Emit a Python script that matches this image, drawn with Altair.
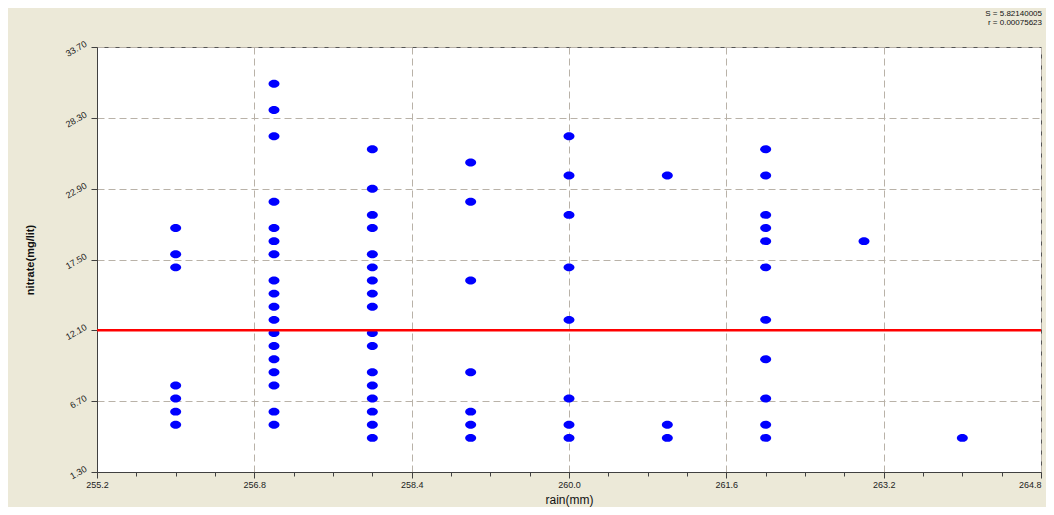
import altair as alt
import pandas as pd

# rain (mm) column positions and nitrate values (mg/lit)
rain_256 = [19.9, 17.9, 16.9, 7.9, 6.9, 5.9, 4.9]
rain_257 = [30.9, 28.9, 26.9, 21.9, 19.9, 18.9, 17.9, 15.9, 14.9, 13.9, 12.9,
            11.9, 10.9, 9.9, 8.9, 7.9, 5.9, 4.9]
rain_258 = [25.9, 22.9, 20.9, 19.9, 17.9, 16.9, 15.9, 14.9, 13.9, 11.9, 10.9,
            8.9, 7.9, 6.9, 5.9, 4.9, 3.9]
rain_259 = [24.9, 21.9, 15.9, 8.9, 5.9, 4.9, 3.9]
rain_260 = [26.9, 23.9, 20.9, 16.9, 12.9, 6.9, 4.9, 3.9]
rain_261 = [23.9, 4.9, 3.9]
rain_262 = [25.9, 23.9, 20.9, 19.9, 18.9, 16.9, 12.9, 9.9, 6.9, 4.9, 3.9]
rain_263 = [18.9]
rain_264 = [3.9]

columns = {256.0: rain_256, 257.0: rain_257, 258.0: rain_258, 259.0: rain_259,
           260.0: rain_260, 261.0: rain_261, 262.0: rain_262, 263.0: rain_263,
           264.0: rain_264}

mean_line = [12.1]
stats_s = ["S = 5.82140005"]
stats_r = ["r = 0.00075623"]

x_domain = [255.2, 264.8]
y_domain = [1.3, 33.7]
x_ticks = [round(255.2 + 0.4 * i, 2) for i in range(25)]
y_ticks = [round(1.3 + 1.35 * i, 3) for i in range(25)]

rows = []
for rx, vals in columns.items():
    for v in vals:
        rows.append({"rain": rx, "nitrate": v})
df = pd.DataFrame(rows)

W, H = 944, 425
FONT = "Liberation Sans"
GRID = "#b9b2a8"
AXIS = "#404040"

x_major = "abs((datum.value - 255.2) / 1.6 - round((datum.value - 255.2) / 1.6)) < 0.01"
y_major = "abs((datum.value - 1.3) / 5.4 - round((datum.value - 1.3) / 5.4)) < 0.01"

x_enc = alt.X("rain:Q", scale=alt.Scale(domain=x_domain, nice=False, zero=False),
              axis=alt.Axis(title="rain(mm)", values=x_ticks,
                            labelExpr=f"({x_major}) ? format(datum.value, '.1f') : ''",
                            labelAlign=alt.ConditionalAxisLabelAlign(
                                condition={"test": "datum.value > 264.7", "value": "right"},
                                value="center"),
                            grid=True, gridDash=[7, 4], gridColor=GRID,
                            gridOpacity=alt.ConditionalAxisNumber(
                                condition={"test": x_major, "value": 1}, value=0),
                            tickSize=alt.ConditionalAxisNumber(
                                condition={"test": x_major, "value": 6}, value=4),
                            tickColor=AXIS, domainColor=AXIS, labelColor="#222222",
                            labelFont=FONT, labelFontSize=9, labelPadding=2,
                            labelFlush=False, labelOverlap=False,
                            titleFont=FONT, titleFontSize=12, titleFontWeight="normal",
                            titleColor="#111111", titlePadding=5))
y_enc = alt.Y("nitrate:Q", scale=alt.Scale(domain=y_domain, nice=False, zero=False),
              axis=alt.Axis(title="nitrate(mg/lit)", values=y_ticks,
                            labelExpr=f"({y_major}) ? format(datum.value, '.2f') : ''",
                            grid=True, gridDash=[7, 4], gridColor=GRID,
                            gridOpacity=alt.ConditionalAxisNumber(
                                condition={"test": y_major, "value": 1}, value=0),
                            tickSize=alt.ConditionalAxisNumber(
                                condition={"test": y_major, "value": 6}, value=4),
                            tickColor=AXIS, domainColor=AXIS, labelColor="#222222",
                            labelFont=FONT, labelFontSize=9, labelAngle=-30,
                            labelAlign="right", labelBaseline="bottom", labelPadding=3,
                            labelFlush=False, labelOverlap=False,
                            titleFont=FONT, titleFontSize=11, titleFontWeight="bold",
                            titleColor="#111111", titleX=-67, titleBaseline="middle"))

ellipse = "M -1 0 A 1 0.72 0 1 0 1 0 A 1 0.72 0 1 0 -1 0 Z"

points = alt.Chart(df).mark_point(shape=ellipse, filled=True, color="#0000ff",
                                  opacity=1, size=121).encode(x=x_enc, y=y_enc)

mean_rule = alt.Chart(pd.DataFrame({"nitrate": mean_line})).mark_rule(
    color="#ff0000", strokeWidth=2.5).encode(y="nitrate:Q")

stat1 = alt.Chart(pd.DataFrame({"t": stats_s})).mark_text(
    align="right", baseline="middle", font=FONT, fontSize=8, color="#111111"
).encode(text="t:N", x=alt.value(W + 1), y=alt.value(-33))
stat2 = alt.Chart(pd.DataFrame({"t": stats_r})).mark_text(
    align="right", baseline="middle", font=FONT, fontSize=8, color="#111111"
).encode(text="t:N", x=alt.value(W + 1), y=alt.value(-24))

chart = alt.layer(points, mean_rule, stat1, stat2).properties(
    width=W, height=H,
    padding={"left": 89, "top": 39, "right": 5, "bottom": 35},
    autosize=alt.AutoSizeParams(type="none"),
    background="#ece9d8",
).configure_view(fill="white", stroke="#555555", strokeWidth=1)

chart.save("out.html", embed_options={"renderer": "svg", "actions": False})
